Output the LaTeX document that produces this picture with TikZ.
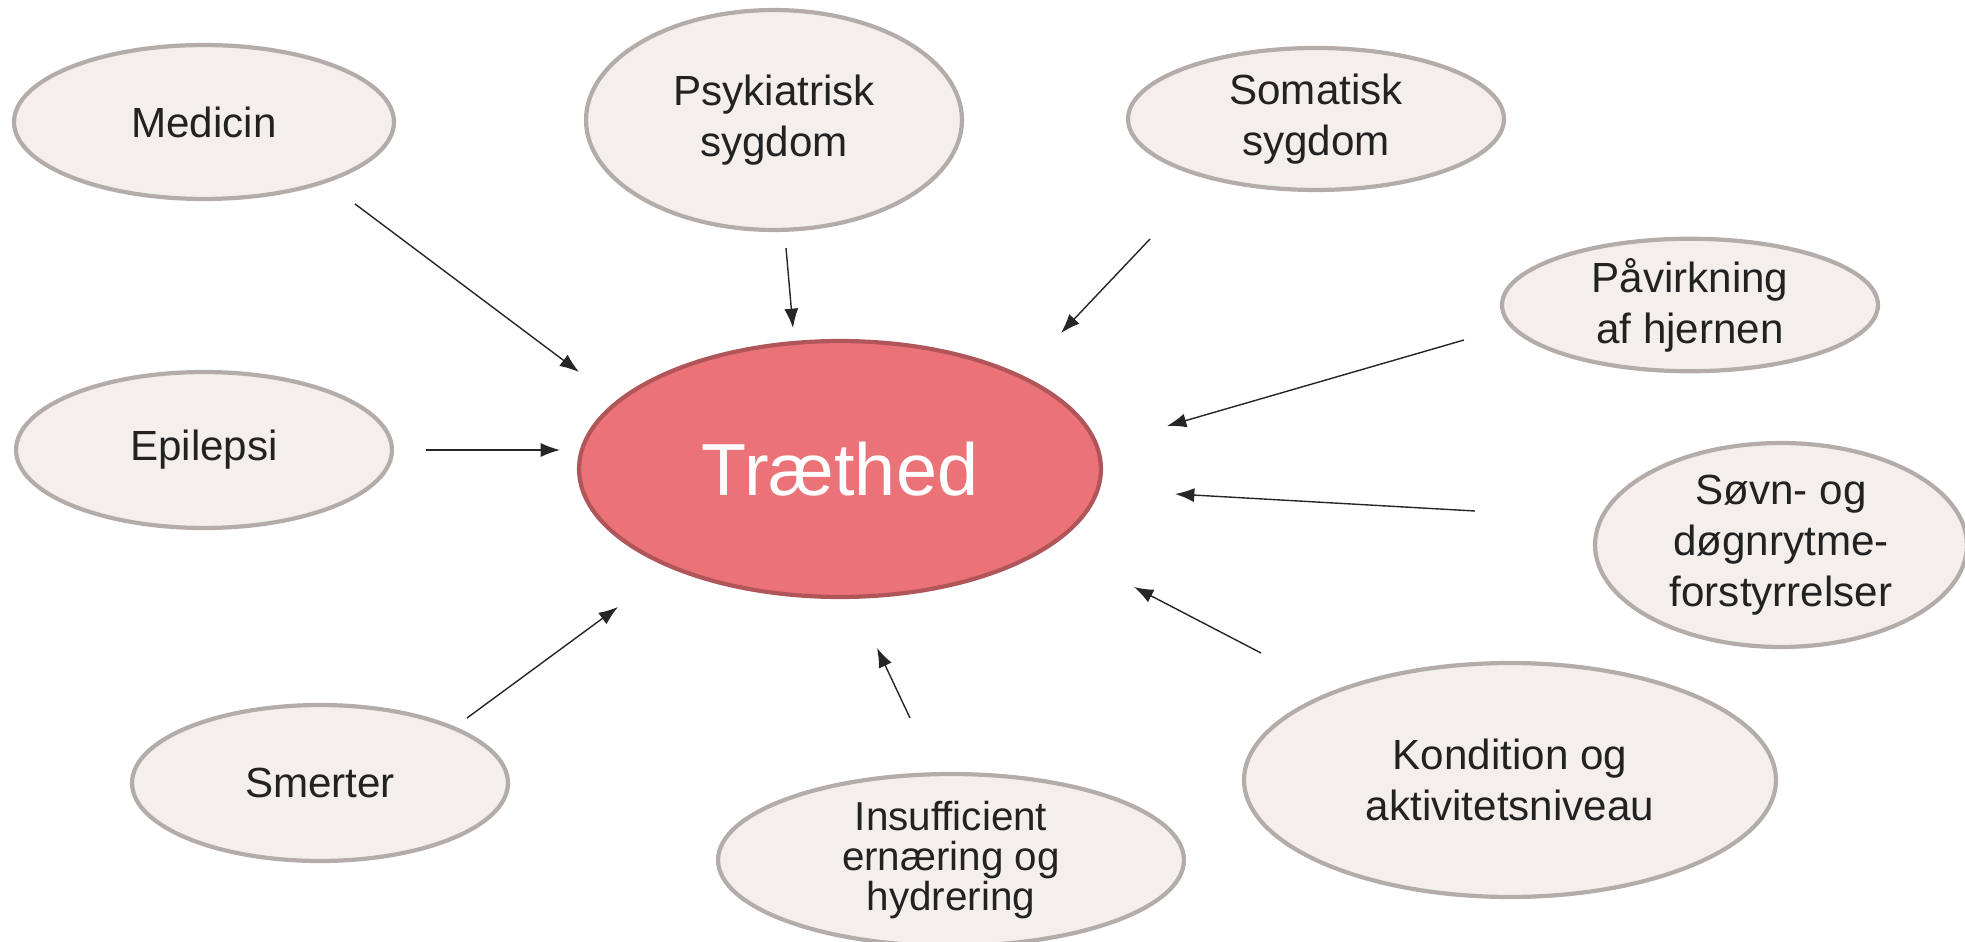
\documentclass[tikz,border=0pt]{standalone}
\usepackage{fontspec}
\setmainfont{Liberation Sans}
\usetikzlibrary{shapes.geometric, arrows.meta}

\definecolor{causefill}{HTML}{F5EFEB}
\definecolor{causeline}{HTML}{B4ACA8}
\definecolor{tiredfill}{HTML}{EB7377}
\definecolor{tiredline}{HTML}{B0565A}
\definecolor{causetext}{HTML}{222222}

\begin{document}
\begin{tikzpicture}[x=0.02cm,y=-0.02cm,
                    cause/.style={ellipse,draw=causeline,fill=causefill,line width=2.4pt,inner sep=0pt,align=center,text=causetext,font=\fontsize{24}{29}\selectfont},
                    tired/.style={ellipse,draw=tiredline,fill=tiredfill,line width=2.4pt,inner sep=0pt,text=white,font=\fontsize{42}{48}\selectfont},
                    cause arrow/.style={-{Latex[length=11pt,width=8pt]}, line width=0.8pt, draw=black!85}]
  \useasboundingbox (0,0) rectangle (1965,942);

  \node[tired, minimum width=10.44cm, minimum height=5.12cm] (traethed) at (840,469) {Træthed};

  \node[cause, minimum width=7.6cm, minimum height=3.08cm] (medicin) at (204,122) {Medicin};
  \node[cause, minimum width=7.52cm, minimum height=4.4cm] (psykiatrisk) at (774,120) {Psykiatrisk\\sygdom};
  \node[cause, minimum width=7.52cm, minimum height=2.84cm] (somatisk) at (1316,119) {Somatisk\\sygdom};
  \node[cause, minimum width=7.52cm, minimum height=2.6cm] (paavirkning) at (1690,305) {Påvirkning\\af hjernen};
  \node[cause, minimum width=7.44cm, minimum height=4.08cm] (soevn) at (1781,545) {Søvn- og\\døgnrytme-\\forstyrrelser};
  \node[cause, minimum width=10.64cm, minimum height=4.68cm] (kondition) at (1510,780) {Kondition og\\aktivitetsniveau};
  \node[cause, minimum width=9.32cm, minimum height=3.44cm, font=\fontsize{23}{23}\selectfont] (ernaering) at (951,860) {Insufficient\\ernæring og\\hydrering};
  \node[cause, minimum width=7.52cm, minimum height=3.12cm] (smerter) at (320,783) {Smerter};
  \node[cause, minimum width=7.52cm, minimum height=3.12cm] (epilepsi) at (204,450) {Epilepsi};

  % free arrow ends
  \coordinate (medicin out) at (355,204);      \coordinate (medicin in) at (579,372);
  \coordinate (psykiatrisk out) at (786,248);  \coordinate (psykiatrisk in) at (793,328);
  \coordinate (somatisk out) at (1150,239);    \coordinate (somatisk in) at (1061,333);
  \coordinate (paavirkning out) at (1464,340); \coordinate (paavirkning in) at (1167,426);
  \coordinate (soevn out) at (1475,511);       \coordinate (soevn in) at (1175,494);
  \coordinate (kondition out) at (1261,653);   \coordinate (kondition in) at (1134,587);
  \coordinate (ernaering out) at (910,718);    \coordinate (ernaering in) at (877,648);
  \coordinate (smerter out) at (467,718);      \coordinate (smerter in) at (618,607);
  \coordinate (epilepsi out) at (426,450);     \coordinate (epilepsi in) at (560,450);

  \foreach \c in {medicin, psykiatrisk, somatisk, paavirkning, soevn, kondition, ernaering, smerter, epilepsi}
    \draw[cause arrow] (\c\space out) -- (\c\space in);
\end{tikzpicture}
\end{document}
